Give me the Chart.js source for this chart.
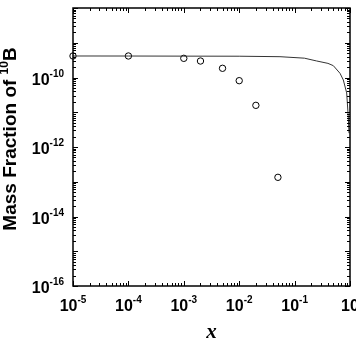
<!DOCTYPE html>
<html lang="en">
<head>
<meta charset="UTF-8">
<title>Mass Fraction of 10B</title>
<script src="https://cdn.jsdelivr.net/npm/chart.js"></script>
<style>
  html, body { margin: 0; padding: 0; background: #fff; }
  #wrap { width: 356px; height: 344px; }
</style>
</head>
<body>
<div id="wrap"><canvas id="chart" width="356" height="344"></canvas></div>
<script>
  // model curve (solid line)
  const curveX = [1e-5, 1e-4, 1e-3, 1e-2, 0.0545, 0.15, 0.25, 0.4, 0.5, 0.66, 0.757, 0.871, 0.93, 0.96];
  const curveY = [4.16e-10, 4.15e-10, 4.12e-10, 4.1e-10, 3.97e-10, 3.6e-10, 2.99e-10, 2.55e-10, 2.19e-10, 1.32e-10, 8.5e-11, 3.6e-11, 7.4e-12, 2.5e-12];

  // open circles
  const pointX = [1e-5, 1e-4, 1e-3, 2e-3, 5e-3, 1e-2, 2e-2, 5e-2];
  const pointY = [4.16e-10, 4.16e-10, 3.56e-10, 2.98e-10, 1.84e-10, 8.1e-11, 1.58e-11, 1.34e-13];

  // tick labels (exponents of 10)
  const xLabelExp = [-5, -4, -3, -2, -1, 0];
  const yLabelExp = [-16, -14, -12, -10];

  // ticks + superscript labels + titles, drawn from the chart scales
  const axesPlugin = {
    id: 'axesPlugin',
    afterDraw(chart) {
      const ctx = chart.ctx;
      const a = chart.chartArea;
      const xs = chart.scales.x, ys = chart.scales.y;
      ctx.save();
      ctx.strokeStyle = '#000';
      ctx.lineWidth = 1.5;
      ctx.strokeRect(a.left, a.top, a.right - a.left, a.bottom - a.top);

      ctx.lineWidth = 1;
      // x ticks, bottom and top
      for (let e = -5; e <= 0; e++) {
        for (let m = 1; m <= 9; m++) {
          const v = m * Math.pow(10, e);
          if (v > 1) break;
          const px = Math.round(xs.getPixelForValue(v)) + 0.5;
          const len = m === 1 ? 5 : 3;
          ctx.beginPath();
          ctx.moveTo(px, a.bottom); ctx.lineTo(px, a.bottom - len);
          ctx.moveTo(px, a.top); ctx.lineTo(px, a.top + len);
          ctx.stroke();
        }
      }
      // y ticks, left and right
      for (let e = -16; e <= -8; e++) {
        for (let m = 1; m <= 9; m++) {
          const v = m * Math.pow(10, e);
          if (e === -8 && m > 1) break;
          const py = Math.round(ys.getPixelForValue(v)) + 0.5;
          const len = m === 1 ? 5 : 3;
          ctx.beginPath();
          ctx.moveTo(a.left, py); ctx.lineTo(a.left + len, py);
          ctx.moveTo(a.right, py); ctx.lineTo(a.right - len, py);
          ctx.stroke();
        }
      }

      ctx.fillStyle = '#000';
      const base = 'bold 16px "Liberation Sans", Arial, sans-serif';
      const sup = 'bold 10px "Liberation Sans", Arial, sans-serif';
      ctx.textBaseline = 'alphabetic';

      // x labels
      xLabelExp.forEach(e => {
        const px = xs.getPixelForValue(Math.pow(10, e));
        ctx.font = base;
        const w1 = ctx.measureText('10').width;
        const s = e === 0 ? '' : String(e);
        ctx.font = sup;
        const w2 = ctx.measureText(s).width;
        const left = px - (w1 + w2) / 2;
        ctx.font = base;
        ctx.fillText('10', left, 311);
        ctx.font = sup;
        ctx.fillText(s, left + w1, 303);
      });

      // y labels
      yLabelExp.forEach(e => {
        const py = ys.getPixelForValue(Math.pow(10, e));
        const s = String(e);
        ctx.font = sup;
        const w2 = ctx.measureText(s).width;
        ctx.font = base;
        const w1 = ctx.measureText('10').width;
        const right = 64;
        ctx.fillText('10', right - w2 - w1, py + 7);
        ctx.font = sup;
        ctx.fillText(s, right - w2, py - 1);
      });

      // x title
      ctx.font = 'italic bold 21px "Liberation Serif", "Times New Roman", serif';
      ctx.textAlign = 'center';
      ctx.fillText('x', (a.left + a.right) / 2, 338);

      // y title, rotated
      ctx.translate(16, 139);
      ctx.rotate(-Math.PI / 2);
      const t1 = 'Mass Fraction of ';
      const t2 = '10';
      const t3 = 'B';
      const big = 'bold 19px "Liberation Sans", Arial, sans-serif';
      const small = 'bold 12px "Liberation Sans", Arial, sans-serif';
      ctx.font = big;
      const w1 = ctx.measureText(t1).width;
      const w3 = ctx.measureText(t3).width;
      ctx.font = small;
      const w2 = ctx.measureText(t2).width;
      let x0 = -(w1 + w2 + w3) / 2;
      ctx.textAlign = 'left';
      ctx.font = big;
      ctx.fillText(t1, x0, 0);
      ctx.font = small;
      ctx.fillText(t2, x0 + w1, -8);
      ctx.font = big;
      ctx.fillText(t3, x0 + w1 + w2, 0);
      ctx.restore();
    }
  };

  new Chart(document.getElementById('chart'), {
    type: 'scatter',
    data: {
      datasets: [
        {
          label: 'curve',
          data: curveX.map((x, i) => ({ x: x, y: curveY[i] })),
          showLine: true,
          borderColor: '#333',
          borderWidth: 1,
          pointRadius: 0,
          fill: false
        },
        {
          label: 'points',
          data: pointX.map((x, i) => ({ x: x, y: pointY[i] })),
          showLine: false,
          clip: false,
          pointRadius: 3.2,
          pointBorderWidth: 1,
          pointBorderColor: '#000',
          pointBackgroundColor: 'rgba(0,0,0,0)'
        }
      ]
    },
    options: {
      responsive: false,
      animation: false,
      layout: { padding: { left: 73, top: 8, right: 6, bottom: 58 } },
      plugins: { legend: { display: false }, tooltip: { enabled: false } },
      scales: {
        x: { type: 'logarithmic', min: 1e-5, max: 1, display: false },
        y: { type: 'logarithmic', min: 1e-16, max: 1e-8, display: false }
      }
    },
    plugins: [axesPlugin]
  });
</script>
</body>
</html>
